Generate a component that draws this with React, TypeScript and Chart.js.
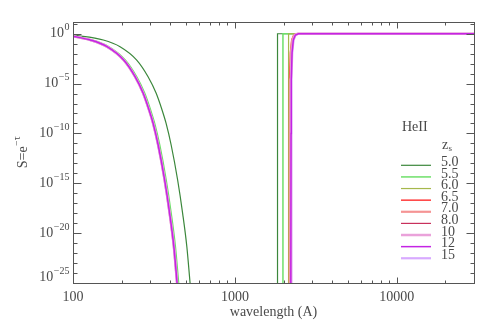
import { useEffect, useRef } from 'react';
import { Chart, registerables } from 'chart.js';

Chart.register(...registerables);

// ---- axis ranges & ticks ----
const xMin = 100;
const xMax = 30000;
const yMin = 1e-25;
const yMax = 15;
const xTickLabels = [100, 1000, 10000];
const yLabelExponents = [0, -5, -10, -15, -20, -25];

// ---- series ----
const seriesLabels = ['5.0', '5.5', '6.0', '6.5', '7.0', '8.0', '10', '12', '15'];
const seriesColors = ['#3b873b', '#6ee06a', '#a6b84c', '#ff3a3a', '#f59494', '#c8305c', '#eaa2da', '#c424e4', '#d8aaff'];
const seriesWidths = [1.2, 1.5, 1.2, 1.5, 2.2, 1.2, 2.5, 1.5, 2.2];
const seriesOrder = [8, 7, 6, 5, 4, 3, 1, 0, 2];

// left (short-wavelength) parts, log10 S
const leftLambdaOuter = [100, 153.9, 195.3, 247.5, 290.9, 326, 355, 376, 404, 443, 475.6, 505, 529, 540.6];
const leftLogSOuter = [-0.13, -0.63, -1.3, -2.64, -4.31, -5.95, -7.65, -8.99, -11.16, -14.67, -18.01, -21.36, -25.04, -26.7];
const leftLambdaZ55 = [100, 130.7, 165.9, 210.2, 247.1, 277, 301.5, 319.5, 343.2, 376.3, 404, 429, 449.4, 459.3];
const leftLogSZ55 = [-0.22, -0.63, -1.3, -2.64, -4.31, -5.95, -7.65, -8.99, -11.16, -14.67, -18.01, -21.36, -25.04, -26.7];
const leftLambdaInner = [100, 127.9, 162.3, 205.7, 241.8, 271, 295, 312.6, 335.8, 368.2, 395.3, 419.8, 439.7, 449.4];
const leftLogSInner = [-0.25, -0.63, -1.3, -2.64, -4.31, -5.95, -7.65, -8.99, -11.16, -14.67, -18.01, -21.36, -25.04, -26.7];

// right (long-wavelength) parts, log10 S
const rightLambdaZ50 = [1834, 1834, 30000];
const rightLambdaZ55 = [1981, 1981, 30000];
const rightLambdaZ60 = [2146, 2146, 30000];
const rightLogSStep = [-27, 0, 0];
const rightLambdaZ65 = [2165, 2173, 2181, 2204, 2245, 2310, 2410, 30000];
const rightLambdaZ70 = [2180, 2188, 2196, 2219, 2261, 2326, 2426, 30000];
const rightLambdaZ80 = [2195, 2203, 2211, 2235, 2276, 2342, 2443, 30000];
const rightLambdaZ10 = [2205, 2213, 2221, 2245, 2287, 2353, 2454, 30000];
const rightLambdaZ12 = [2215, 2223, 2231, 2255, 2297, 2364, 2466, 30000];
const rightLambdaZ15 = [2222, 2230, 2238, 2262, 2304, 2371, 2474, 30000];
const rightLogSRise = [-27, -10, -4.6, -1.9, -0.63, -0.13, 0, 0];

const leftParts: [number[], number[]][] = [
  [leftLambdaOuter, leftLogSOuter],
  [leftLambdaZ55, leftLogSZ55],
  [leftLambdaInner, leftLogSInner],
  [leftLambdaInner, leftLogSInner],
  [leftLambdaInner, leftLogSInner],
  [leftLambdaInner, leftLogSInner],
  [leftLambdaInner, leftLogSInner],
  [leftLambdaInner, leftLogSInner],
  [leftLambdaInner, leftLogSInner],
];
const rightParts: [number[], number[]][] = [
  [rightLambdaZ50, rightLogSStep],
  [rightLambdaZ55, rightLogSStep],
  [rightLambdaZ60, rightLogSStep],
  [rightLambdaZ65, rightLogSRise],
  [rightLambdaZ70, rightLogSRise],
  [rightLambdaZ80, rightLogSRise],
  [rightLambdaZ10, rightLogSRise],
  [rightLambdaZ12, rightLogSRise],
  [rightLambdaZ15, rightLogSRise],
];

const toPoints = (lam: number[], logs: number[]) => lam.map((l, i) => ({ x: l, y: Math.pow(10, logs[i]) }));

const FONT = '"Liberation Serif", "DejaVu Serif", serif';
const TEXT = '#4a4a4a';

function drawPow(ctx: CanvasRenderingContext2D, exp: number, xRight: number, yc: number) {
  const base = '10';
  const sup = exp === 0 ? '0' : '\u2212' + Math.abs(exp);
  ctx.font = `14px ${FONT}`;
  const wb = ctx.measureText(base).width;
  ctx.font = `10px ${FONT}`;
  const ws = ctx.measureText(sup).width;
  const x0 = xRight - wb - ws;
  ctx.textAlign = 'left';
  ctx.textBaseline = 'middle';
  ctx.font = `14px ${FONT}`;
  ctx.fillText(base, x0, yc);
  ctx.font = `10px ${FONT}`;
  ctx.fillText(sup, x0 + wb + 0.5, yc - 6);
}

const idlPlugin = {
  id: 'idlAxes',
  afterDatasetsDraw(chart: any) {
    const { ctx, chartArea: a, scales } = chart;
    const xs = scales.x;
    const ys = scales.y;
    ctx.save();
    ctx.strokeStyle = '#555';
    ctx.lineWidth = 1;
    const L = Math.round(a.left) + 0.5;
    const R = Math.round(a.right) + 0.5;
    const T = Math.round(a.top) + 0.5;
    const B = Math.round(a.bottom) + 0.5;
    ctx.strokeRect(L, T, R - L, B - T);
    ctx.beginPath();
    for (let d = 2; d <= 4; d++) {
      for (let m = 1; m <= 9; m++) {
        const v = m * Math.pow(10, d);
        if (v <= xMin || v >= xMax) continue;
        const px = Math.round(xs.getPixelForValue(v)) + 0.5;
        const len = m === 1 ? 6 : 3;
        ctx.moveTo(px, B);
        ctx.lineTo(px, B - len);
        ctx.moveTo(px, T);
        ctx.lineTo(px, T + len);
      }
    }
    for (let e = -25; e <= 1; e++) {
      const v = Math.pow(10, e);
      if (v <= yMin || v >= yMax) continue;
      const py = Math.round(ys.getPixelForValue(v)) + 0.5;
      const len = e % 5 === 0 ? 8 : 4;
      ctx.moveTo(L, py);
      ctx.lineTo(L + len, py);
      ctx.moveTo(R, py);
      ctx.lineTo(R - len, py);
    }
    ctx.stroke();

    ctx.fillStyle = TEXT;
    // x tick labels
    ctx.font = `14px ${FONT}`;
    ctx.textAlign = 'center';
    ctx.textBaseline = 'middle';
    xTickLabels.forEach((v) => {
      ctx.fillText(String(v), xs.getPixelForValue(v), a.bottom + 14);
    });
    // y tick labels
    yLabelExponents.forEach((e) => {
      let yc = ys.getPixelForValue(Math.pow(10, e));
      if (yc > a.bottom - 6) yc = a.bottom - 6;
      drawPow(ctx, e, a.left - 4, yc);
    });
    // x title
    ctx.font = `14px ${FONT}`;
    ctx.textAlign = 'center';
    ctx.textBaseline = 'middle';
    ctx.fillText('wavelength (A)', (a.left + a.right) / 2, a.bottom + 29);
    // y title
    ctx.save();
    ctx.translate(23, (a.top + a.bottom) / 2);
    ctx.rotate(-Math.PI / 2);
    ctx.font = `14px ${FONT}`;
    const w1 = ctx.measureText('S=e').width;
    ctx.font = `10px ${FONT}`;
    const w2 = ctx.measureText('\u2212\u03c4').width;
    const sx = -(w1 + w2) / 2;
    ctx.textAlign = 'left';
    ctx.font = `14px ${FONT}`;
    ctx.fillText('S=e', sx, 0);
    ctx.font = `10px ${FONT}`;
    ctx.fillText('\u2212\u03c4', sx + w1 + 0.5, -6);
    ctx.restore();

    // legend
    ctx.textAlign = 'left';
    ctx.textBaseline = 'middle';
    ctx.font = `14px ${FONT}`;
    ctx.fillText('HeII', 402, 127);
    ctx.fillText('z', 442, 145);
    ctx.font = `9px ${FONT}`;
    ctx.fillText('s', 448.5, 149);
    seriesLabels.forEach((lab, i) => {
      const y = 165.3 + i * 11.62;
      ctx.strokeStyle = seriesColors[i];
      ctx.lineWidth = seriesWidths[i];
      ctx.beginPath();
      ctx.moveTo(401, y);
      ctx.lineTo(431, y);
      ctx.stroke();
      ctx.font = `14px ${FONT}`;
      ctx.fillStyle = TEXT;
      ctx.fillText(lab, 441, y - 3);
    });
    ctx.restore();
  },
};

export default function App() {
  const ref = useRef<HTMLCanvasElement>(null);
  useEffect(() => {
    const canvas = ref.current;
    if (!canvas) return;
    const datasets: any[] = [];
    seriesLabels.forEach((lab, i) => {
      datasets.push({
        label: lab,
        data: toPoints(leftParts[i][0], leftParts[i][1]),
        borderColor: seriesColors[i],
        borderWidth: seriesWidths[i],
        pointRadius: 0,
        cubicInterpolationMode: 'monotone',
        fill: false,
        order: seriesOrder[i],
      });
      datasets.push({
        label: lab + ' step',
        data: toPoints(rightParts[i][0], rightParts[i][1]),
        borderColor: seriesColors[i],
        borderWidth: seriesWidths[i],
        pointRadius: 0,
        tension: 0,
        fill: false,
        order: seriesOrder[i],
      });
    });
    const chart = new Chart(canvas, {
      type: 'line',
      data: { datasets },
      options: {
        animation: false,
        responsive: false,
        maintainAspectRatio: false,
        layout: { padding: { left: 73, top: 22, right: 22, bottom: 47 } },
        plugins: { legend: { display: false }, tooltip: { enabled: false } },
        scales: {
          x: { type: 'logarithmic', min: xMin, max: xMax, display: false },
          y: { type: 'logarithmic', min: yMin, max: yMax, display: false },
        },
      },
      plugins: [idlPlugin],
    });
    return () => chart.destroy();
  }, []);
  return (
    <div style={{ position: 'fixed', left: 0, top: 0, width: 496, height: 330, background: '#fff' }}>
      <canvas ref={ref} width={496} height={330} style={{ display: 'block', width: 496, height: 330 }} />
    </div>
  );
}
